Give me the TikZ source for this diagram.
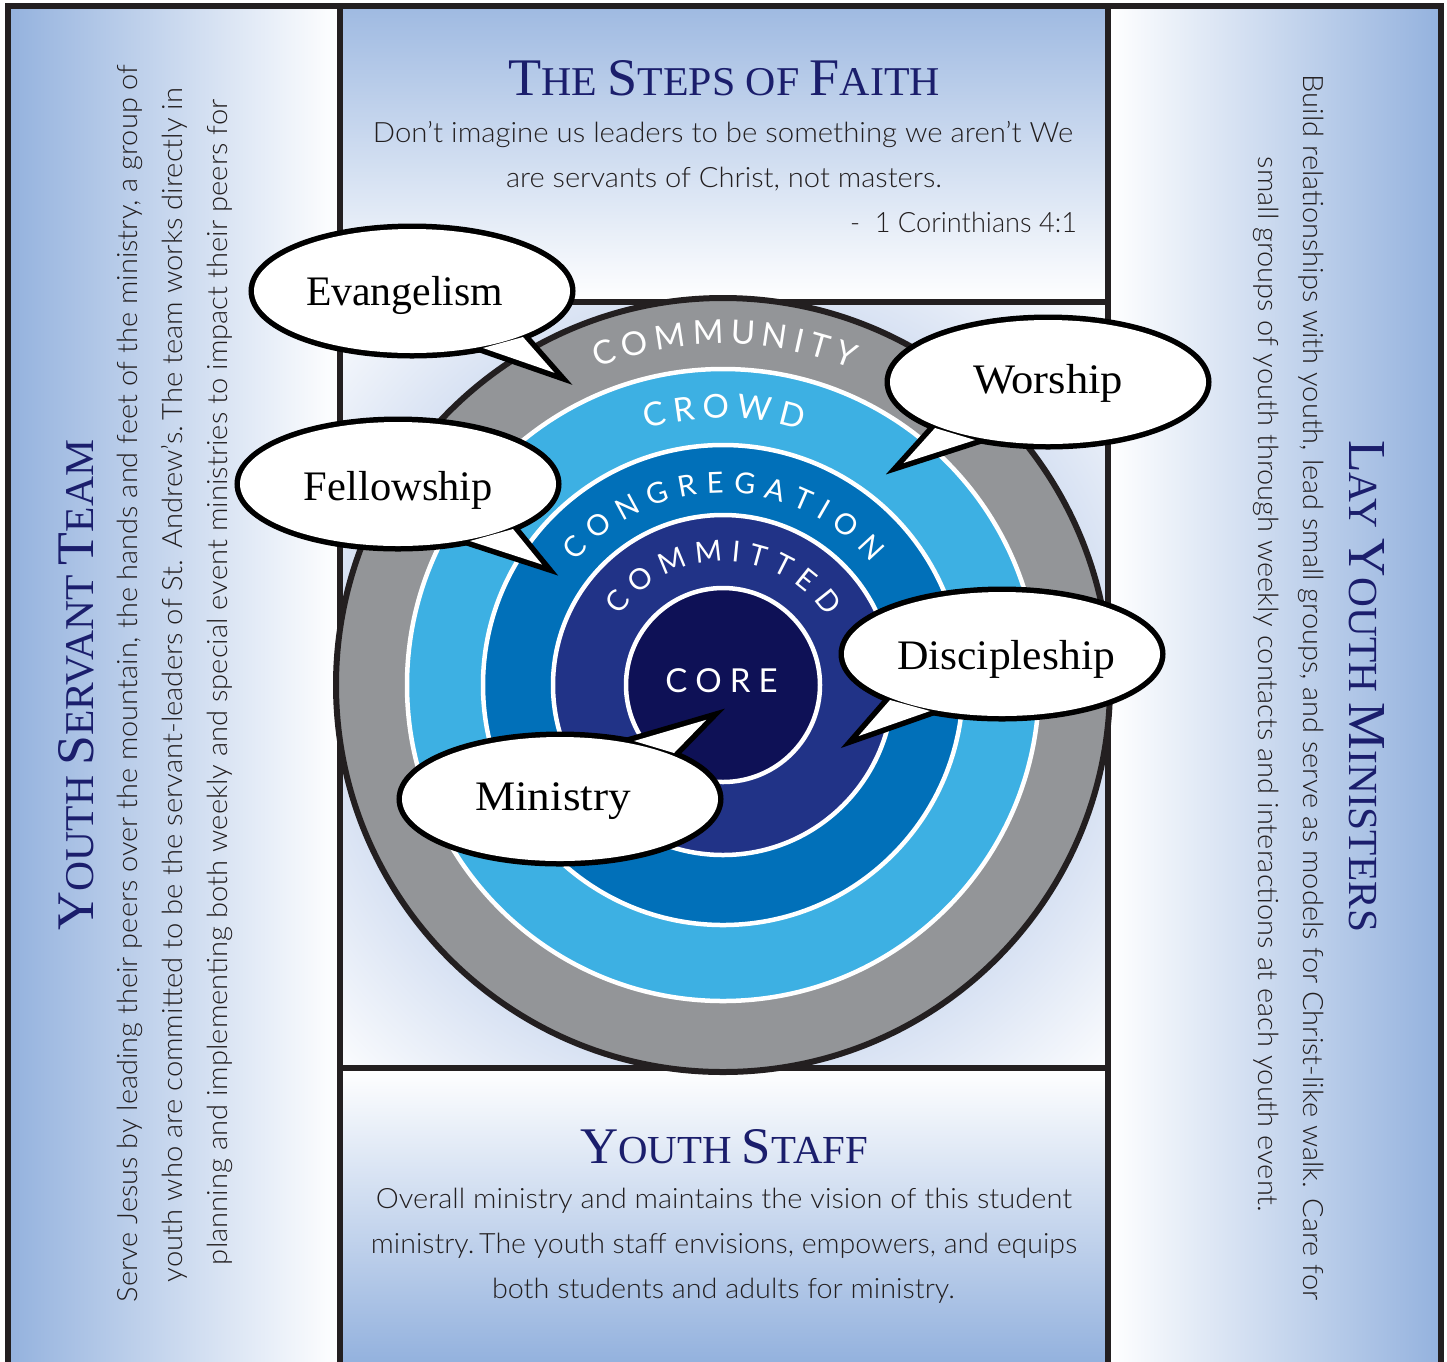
\documentclass[tikz,border=0pt]{standalone}
\usepackage{fontspec}
\IfFontExistsTF{Lato Light}{\setsansfont{Lato Light}}{\setsansfont{Lato}}
\newfontfamily\arcfam{Lato}
\newfontfamily\serifB{Liberation Serif}
\usepackage{graphicx}
\usetikzlibrary{shapes.geometric,decorations.text,calc}

\definecolor{panelblue}{HTML}{94B2DE}
\definecolor{glowblue}{HTML}{D8E2F3}
\definecolor{ringgray}{HTML}{939598}
\definecolor{crowdc}{HTML}{3DB0E3}
\definecolor{congc}{HTML}{0170B9}
\definecolor{commc}{HTML}{213387}
\definecolor{corec}{HTML}{0E1156}
\definecolor{navy}{HTML}{1B1E6C}
\definecolor{bodyc}{HTML}{231F20}
\definecolor{framec}{HTML}{231F20}

\pgfdeclareradialshading{glow}{\pgfpoint{0bp}{0bp}}{color(0bp)=(glowblue); color(15bp)=(glowblue); color(21.5bp)=(white); color(50bp)=(white)}

\newcommand\arcfontA{\arcfam\fontsize{33}{33}\selectfont\color{white}}
\newcommand\arcfontB{\arcfam\fontsize{29}{29}\selectfont\color{white}}
\newcommand\fitw[2]{\resizebox{#1}{\height}{#2}}
\newcommand\BC[1]{{\fontsize{53}{53}\selectfont #1}}
\newcommand\SC[1]{{\fontsize{41}{41}\selectfont #1}}

\begin{document}
\begin{tikzpicture}[x=1pt,y=-1pt,
  bodytext/.style={font=\sffamily\fontsize{28}{34}\selectfont, text=bodyc, anchor=base, inner sep=0pt},
  titletext/.style={font=\serifB\fontsize{41}{41}\selectfont, text=navy, anchor=base, inner sep=0pt},
  bubshape/.style={ellipse, minimum width=316pt, minimum height=124pt, inner sep=0pt},
  bubline/.style={draw=black, line width=11pt, miter limit=10},
  bubtext/.style={font=\serifB\fontsize{42}{48}\selectfont, text=black, anchor=base, inner sep=0pt},
  frameline/.style={draw=framec, line width=6pt},
  ringline/.style={draw=white, line width=4.5pt}
]
\useasboundingbox (0,0) rectangle (1447,1361);
\clip (0,0) rectangle (1447,1361);

% ---------- backgrounds ----------
\shade[left color=panelblue, right color=white] (8,6) rectangle (340,1420);
\shade[left color=white, right color=panelblue] (1108,6) rectangle (1441,1420);
\shade[top color=panelblue!90, bottom color=white] (340,6) rectangle (1108,302);
\shade[top color=white, bottom color=panelblue] (340,1068) rectangle (1108,1361);
\fill[white] (340,302) rectangle (1108,1068);
\coordinate (cen) at (723,685);
\begin{scope}
  \clip (340,302) rectangle (1108,1068);
  \shade[shading=glow] (cen) circle[radius=650pt];
\end{scope}

% ---------- frame ----------
\draw[frameline] (8,6) rectangle (1441,1420);
\draw[frameline] (340,6) -- (340,1420);
\draw[frameline] (1108,6) -- (1108,1420);
\draw[frameline] (340,302) -- (1108,302);
\draw[frameline] (340,1068) -- (1108,1068);

% ---------- rings ----------
\filldraw[fill=ringgray, draw=framec, line width=6pt] (cen) circle[radius=387pt];
\filldraw[fill=crowdc, ringline] (cen) circle[radius=316pt];
\filldraw[fill=congc, ringline] (cen) circle[radius=240pt];
\filldraw[fill=commc, ringline] (cen) circle[radius=170pt];
\filldraw[fill=corec, ringline] (cen) circle[radius=97pt];

\path[decorate, decoration={text along path, text align={fit to path},
  text={|\arcfontA|COMMUNITY}}]
  ($(cen)+(111.5:341pt)$) arc[start angle=111.5, end angle=67.9, radius=341pt];
\path[decorate, decoration={text along path, text align={fit to path},
  text={|\arcfontA|CROWD}}]
  ($(cen)+(106.6:267pt)$) arc[start angle=106.6, end angle=72.8, radius=267pt];
\path[decorate, decoration={text along path, text align={fit to path},
  text={|\arcfontB|CONGREGATION}}]
  ($(cen)+(140:192pt)$) arc[start angle=140, end angle=39.5, radius=192pt];
\path[decorate, decoration={text along path, text align={fit to path},
  text={|\arcfontB|COMMITTED}}]
  ($(cen)+(146:124pt)$) arc[start angle=146, end angle=33.5, radius=124pt];
\node[font=\arcfam\fontsize{33}{33}\selectfont, text=white, anchor=base, inner sep=0pt]
  (coretext) at (721.5,692) {C\kern8ptO\kern8ptR\kern8ptE};

% ---------- bubbles ----------
% Evangelism
\node[bubshape, bubline] (evo) at (412,291) {};
\coordinate (evb1) at (483,348); \coordinate (evt) at (554.5,372.8); \coordinate (evb2) at (523,337);
\draw[bubline] ($(evb1)!-10pt!(evt)$) -- (evt) -- ($(evb2)!-10pt!(evt)$);
\fill[white] (evb1) -- (evt) -- (evb2) -- cycle;
\node[bubshape, fill=white] (evi) at (412,291) {};
\node[bubtext] (evang) at (404.5,305) {\fitw{197pt}{Evangelism}};

% Fellowship
\node[bubshape, bubline] (feo) at (398,484) {};
\coordinate (feb1) at (470,541); \coordinate (fet) at (542,564.5); \coordinate (feb2) at (513,529);
\draw[bubline] ($(feb1)!-10pt!(fet)$) -- (fet) -- ($(feb2)!-10pt!(fet)$);
\fill[white] (feb1) -- (fet) -- (feb2) -- cycle;
\node[bubshape, fill=white] (fei) at (398,484) {};
\node[bubtext] (fellow) at (398.5,500) {\fitw{189pt}{Fellowship}};

% Worship
\node[bubshape, bubline] (woo) at (1048,382) {};
\coordinate (wob1) at (935,428); \coordinate (wot) at (903.5,463); \coordinate (wob2) at (975,440);
\draw[bubline] ($(wob1)!-10pt!(wot)$) -- (wot) -- ($(wob2)!-10pt!(wot)$);
\fill[white] (wob1) -- (wot) -- (wob2) -- cycle;
\node[bubshape, fill=white] (woi) at (1048,382) {};
\node[bubtext] (worship) at (1048,393) {\fitw{150pt}{Worship}};

% Discipleship
\node[bubshape, bubline] (dio) at (1002,654) {};
\coordinate (dib1) at (890,700); \coordinate (dit) at (858.6,736); \coordinate (dib2) at (930,711);
\draw[bubline] ($(dib1)!-10pt!(dit)$) -- (dit) -- ($(dib2)!-10pt!(dit)$);
\fill[white] (dib1) -- (dit) -- (dib2) -- cycle;
\node[bubshape, fill=white] (dii) at (1002,654) {};
\node[bubtext] (disc) at (1006,669) {\fitw{218pt}{Discipleship}};

% Ministry
\node[bubshape, bubline] (mio) at (560,799) {};
\coordinate (mib1) at (634,741); \coordinate (mit) at (706.3,719.8); \coordinate (mib2) at (674,753);
\draw[bubline] ($(mib1)!-10pt!(mit)$) -- (mit) -- ($(mib2)!-10pt!(mit)$);
\fill[white] (mib1) -- (mit) -- (mib2) -- cycle;
\node[bubshape, fill=white] (mii) at (560,799) {};
\node[bubtext] (minis) at (553,810) {\fitw{156pt}{Ministry}};

% ---------- top box ----------
\node[titletext] (toptitle) at (724,95) {\resizebox{432pt}{35pt}{\BC{T}\SC{HE} \BC{S}\SC{TEPS} \SC{OF} \BC{F}\SC{AITH}}};
\node[bodytext] (q1) at (723,142) {\fitw{700pt}{Don’t imagine us leaders to be something we aren’t We}};
\node[bodytext] (q2) at (724,187) {\fitw{436pt}{are servants of Christ, not masters.}};
\node[bodytext] (q3) at (963.5,232) {\fitw{227pt}{-\ \ 1 Corinthians 4:1}};

% ---------- bottom box ----------
\node[titletext] (bottitle) at (724,1163) {\resizebox{288pt}{34pt}{\BC{Y}\SC{OUTH} \BC{S}\SC{TAFF}}};
\node[bodytext] (s1) at (724,1208) {\fitw{696pt}{Overall ministry and maintains the vision of this student}};
\node[bodytext] (s2) at (724,1253) {\fitw{706pt}{ministry.\,The youth staff envisions, empowers, and equips}};
\node[bodytext] (s3) at (723.5,1298) {\fitw{463pt}{both students and adults for ministry.}};

% ---------- left panel ----------
\node[titletext, rotate=90] (lefttitle) at (93,685) {\resizebox{490pt}{35pt}{\BC{Y}\SC{OUTH} \BC{S}\SC{ERVANT} \BC{T}\SC{EAM}}};
\node[bodytext, rotate=90] (l1) at (137,683.5) {\fitw{1237pt}{Serve Jesus by leading their peers over the mountain, the hands and feet of the ministry, a group of}};
\node[bodytext, rotate=90] (l2) at (182,685) {\fitw{1194pt}{youth who are committed to be the servant-leaders of St. Andrew’s.\,The team works directly in}};
\node[bodytext, rotate=90] (l3) at (227,682.5) {\fitw{1165pt}{planning and implementing both weekly and special event ministries to impact their peers for}};

% ---------- right panel ----------
\node[titletext, rotate=-90] (righttitle) at (1349,686) {\resizebox{492pt}{35pt}{\BC{L}\SC{AY} \BC{Y}\SC{OUTH} \BC{M}\SC{INISTERS}}};
\node[bodytext, rotate=-90] (r1) at (1303,687.5) {\fitw{1225pt}{Build relationships with youth, lead small groups, and serve as models for Christ-like walk. Care for}};
\node[bodytext, rotate=-90] (r2) at (1258,684.5) {\fitw{1055pt}{small groups of youth through weekly contacts and interactions at each youth event.}};
\end{tikzpicture}
\end{document}
